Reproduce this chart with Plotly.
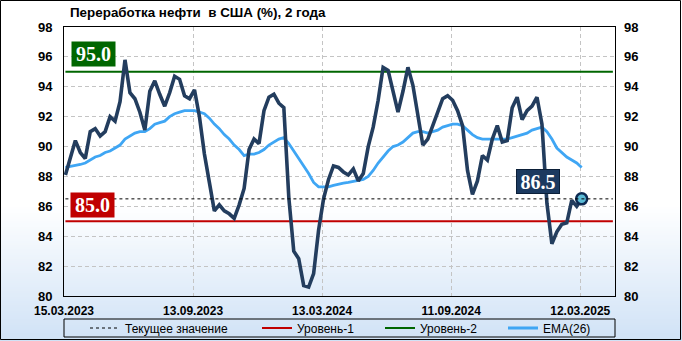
import pandas as pd
import plotly.graph_objects as go

# ---------------- data ----------------
TITLE = "Переработка нефти\u00a0 в США (%), 2 года"
START_DATE = "2023-03-17"

refinery_util = [
    88.1, 89.2, 90.4, 89.6, 89.2, 91.0, 91.2, 90.7, 91.0, 92.0,
    91.7, 93.0, 95.8, 93.6, 93.2, 92.3, 91.1, 93.7, 94.4, 93.5,
    92.7, 93.6, 94.7, 94.5, 93.4, 93.2, 93.8, 92.0, 89.5, 87.6,
    85.7, 86.1, 85.7, 85.5, 85.2, 86.1, 87.2, 89.8, 90.5, 90.2,
    92.4, 93.3, 93.5, 92.9, 92.6, 86.6, 83.0, 82.5, 80.7, 80.6,
    81.5, 84.4, 86.5, 87.8, 88.7, 88.6, 88.3, 88.1, 88.5, 87.7,
    88.2, 90.0, 91.3, 93.1, 95.3, 95.1, 93.6, 92.3, 93.7, 95.3,
    94.1, 92.0, 90.1, 90.5, 91.4, 92.2, 93.2, 93.4, 93.1, 92.4,
    91.4, 88.4, 86.8, 87.7, 89.4, 89.1, 90.5, 91.4, 90.3, 90.4,
    92.6, 93.3, 91.8, 92.4, 92.7, 93.3, 91.5, 86.2, 83.5, 84.3,
    84.8, 84.9, 86.4, 86.0, 86.5,
]

ema_26 = [
    88.6, 88.65, 88.7, 88.8, 88.9, 89.1, 89.3, 89.4, 89.6, 89.7,
    89.9, 90.1, 90.5, 90.7, 90.9, 91.0, 91.0, 91.2, 91.5, 91.6,
    91.7, 92.0, 92.2, 92.3, 92.4, 92.4, 92.4, 92.3, 92.2, 91.9,
    91.5, 91.2, 90.8, 90.5, 90.1, 89.8, 89.4, 89.5, 89.5, 89.6,
    89.8, 90.1, 90.3, 90.5, 90.6, 90.2, 89.7, 89.2, 88.7, 88.2,
    87.6, 87.3, 87.3, 87.3, 87.4, 87.5, 87.55, 87.6, 87.65, 87.7,
    87.8, 88.0, 88.4, 88.9, 89.3, 89.7, 90.0, 90.1, 90.3, 90.6,
    90.9, 91.0, 91.0, 90.9, 91.0, 91.1, 91.3, 91.4, 91.5, 91.5,
    91.4, 91.1, 90.8, 90.6, 90.5, 90.5, 90.5, 90.5, 90.5, 90.5,
    90.6, 90.7, 90.8, 90.9, 91.1, 91.2, 91.3, 91.0, 90.5, 89.9,
    89.6, 89.3, 89.1, 88.9, 88.6,
]

LEVEL_1 = 85.0
LEVEL_2 = 95.0

x_tick_dates = ["2023-03-15", "2023-09-13", "2024-03-13", "2024-09-11", "2025-03-12"]
x_tick_labels = ["15.03.2023", "13.09.2023", "13.03.2024", "11.09.2024", "12.03.2025"]
y_tick_values = [80, 82, 84, 86, 88, 90, 92, 94, 96, 98]

NAME_CURRENT = "Текущее значение"
NAME_LEVEL_1 = "Уровень-1"
NAME_LEVEL_2 = "Уровень-2"
NAME_EMA = "EMA(26)"

# ---------------- config ----------------
X_RANGE = ["2023-03-15", "2025-04-30"]
LINE_SPAN = ["2023-03-17", "2025-04-27"]
W, H = 682, 341
ML, MR, MT, MB = 64, 67, 27, 45
PW, PH = W - ML - MR, H - MT - MB

dates = pd.date_range(START_DATE, periods=len(refinery_util), freq="7D")
current = refinery_util[-1]

SANS = "Liberation Sans, Arial, sans-serif"
SERIF = "Liberation Serif, Times New Roman, serif"


def px_x(p):
    return (p - ML) / PW


def px_y(p):
    return (MT + PH - p) / PH


fig = go.Figure()

fig.add_trace(go.Scatter(
    x=LINE_SPAN, y=[LEVEL_2, LEVEL_2], mode="lines", name=NAME_LEVEL_2,
    line=dict(color="#006600", width=2), legendrank=3, legendwidth=78,
    hoverinfo="skip"))
fig.add_trace(go.Scatter(
    x=LINE_SPAN, y=[LEVEL_1, LEVEL_1], mode="lines", name=NAME_LEVEL_1,
    line=dict(color="#c00000", width=2), legendrank=2, legendwidth=78,
    hoverinfo="skip"))
fig.add_trace(go.Scatter(
    x=LINE_SPAN, y=[current, current], mode="lines", name=NAME_CURRENT,
    line=dict(color="#000000", width=1, dash="3px,3px"), legendrank=1,
    legendwidth=127, yaxis="y2", hoverinfo="skip"))
fig.add_trace(go.Scatter(
    x=dates, y=ema_26, mode="lines", name=NAME_EMA,
    line=dict(color="#3fa6f4", width=2.8), legendrank=4, legendwidth=78))
fig.add_trace(go.Scatter(
    x=dates, y=refinery_util, mode="lines", name="Переработка",
    line=dict(color="#233d5e", width=3.6), showlegend=False))
fig.add_trace(go.Scatter(
    x=[dates[-1]], y=[current], mode="markers", showlegend=False,
    marker=dict(size=11, color="#5bbbd6", line=dict(color="#0d2a52", width=2.5))))

# vertical background gradient (white -> light blue) built from thin strips
GRAD_TOP, GRAD_BOTTOM = 205, H
C0, C1 = (255, 255, 255), (208, 226, 246)
bg_shapes = []
STEP = 2
for p in range(GRAD_TOP, GRAD_BOTTOM, STEP):
    t = (p + STEP / 2 - GRAD_TOP) / (GRAD_BOTTOM - GRAD_TOP)
    c = tuple(round(a + (b - a) * t) for a, b in zip(C0, C1))
    bg_shapes.append(dict(
        type="rect", xref="paper", yref="paper", layer="below",
        x0=px_x(0), x1=px_x(W), y0=px_y(min(p + STEP + 0.5, H)), y1=px_y(p),
        line=dict(width=0), fillcolor=f"rgb{c}"))

axis_common = dict(
    showline=True, linecolor="#000000", linewidth=1, mirror=True,
    showgrid=True, gridcolor="#c4c4c4", griddash="4px,3px", gridwidth=1,
    zeroline=False, ticks="",
)

fig.update_layout(
    width=W, height=H,
    margin=dict(l=ML, r=MR, t=MT, b=MB, pad=0, autoexpand=False),
    paper_bgcolor="#ffffff", plot_bgcolor="rgba(0,0,0,0)",
    title=dict(text=TITLE, x=px_x(70), xref="paper", xanchor="left",
               y=1 - 12 / H, yref="container", yanchor="middle",
               font=dict(family=SANS, size=13.4, color="#000000", weight="bold")),
    xaxis=dict(type="date", range=X_RANGE, tickvals=x_tick_dates, ticktext=x_tick_labels,
               tickfont=dict(family=SANS, size=12, color="#000000", weight="bold"),
               ticklabelstandoff=4, **axis_common),
    yaxis=dict(range=[80, 98], tickvals=y_tick_values,
               tickfont=dict(family=SANS, size=13, color="#000000", weight="bold"),
               ticklabelstandoff=8, **axis_common),
    yaxis2=dict(range=[80, 98], tickvals=y_tick_values, overlaying="y", side="right",
                matches="y", showgrid=False, zeroline=False, showline=False, ticks="",
                tickfont=dict(family=SANS, size=13, color="#000000", weight="bold"),
                ticklabelstandoff=8),
    showlegend=True,
    legend=dict(orientation="h", x=px_x(85), xanchor="left", y=px_y(328), yanchor="middle",
                bgcolor="rgba(0,0,0,0)", borderwidth=0,
                font=dict(family=SANS, size=12, color="#000000"),
                traceorder="normal", itemclick=False, itemdoubleclick=False),
    shapes=bg_shapes + [
        dict(type="rect", xref="paper", yref="paper", x0=0, x1=1,
             y0=px_y(337), y1=px_y(319), line=dict(color="#000000", width=1)),
        dict(type="rect", xref="paper", yref="paper", x0=px_x(0.5), x1=px_x(W - 1.5),
             y0=px_y(H - 1.5), y1=px_y(0.5), line=dict(color="#000000", width=1)),
    ],
    hovermode=False,
)

label_font = dict(family=SERIF, size=20, color="#ffffff", weight="bold")
fig.add_annotation(x=px_x(71), xref="paper", xanchor="left", y=LEVEL_2, yref="y",
                   yanchor="bottom", yshift=5, text=f"{LEVEL_2:.1f}", showarrow=False,
                   bgcolor="#006600", font=label_font, borderpad=1, width=41, height=22)
fig.add_annotation(x=px_x(70), xref="paper", xanchor="left", y=LEVEL_1, yref="y",
                   yanchor="bottom", yshift=3, text=f"{LEVEL_1:.1f}", showarrow=False,
                   bgcolor="#c00000", font=label_font, borderpad=1, width=41, height=22)
fig.add_annotation(x=dates[-1], xref="x", xanchor="right", xshift=-22, y=current, yref="y",
                   yanchor="bottom", yshift=5, text=f"{current:.1f}", showarrow=False,
                   bgcolor="#1c3a60", bordercolor="#0b1f38", borderwidth=1,
                   font=label_font, borderpad=1, width=40, height=21)

fig.write_html("out.html")
